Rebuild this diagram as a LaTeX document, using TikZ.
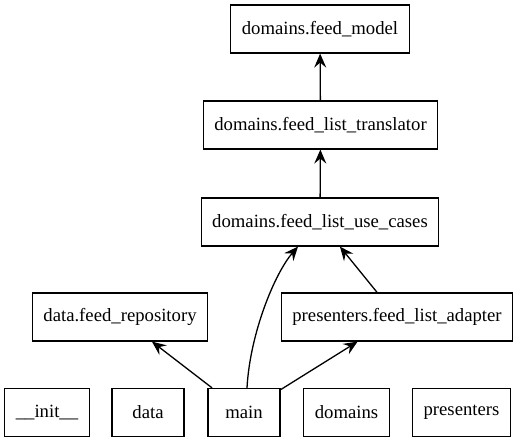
\documentclass[tikz,border=0pt]{standalone}
\usepackage{fontspec}
\setmainfont{Liberation Serif}
\usetikzlibrary{arrows.meta}
\tikzset{
	mod/.style={draw, line width=1.2pt, minimum height=48pt, minimum width=72pt, inner xsep=11pt, font=\fontsize{18.7}{22}\selectfont},
	dep/.style={line width=1.3pt, -{Stealth[length=14pt,width=12pt,inset=5pt]}}
}

\begin{document}
\begin{tikzpicture}[x=1pt, y=1pt]
			%%%%% START %%%%%
			
			\useasboundingbox (0, 0) rectangle (517, 443);
			
			\node[mod] (model) at (320, 414) {domains.feed\_model};
			\node[mod] (translator) at (320.5, 318) {domains.feed\_list\_translator};
			\node[mod] (usecases) at (320, 221) {domains.feed\_list\_use\_cases};
			
			\node[mod] (repo) at (120, 126) {data.feed\_repository};
			\node[mod] (adapter) at (397, 126) {presenters.feed\_list\_adapter};
			
			\node[mod] (init) at (47, 30.5) {\_\_init\_\_};
			\node[mod] (data) at (148, 30.5) {data};
			\node[mod] (main) at (244, 30.5) {main};
			\node[mod] (domains) at (346.5, 30.5) {domains};
			\node[mod] (presenters) at (461.5, 30.5) {presenters};
			
			\draw[dep] (translator) -- (model);
			\draw[dep] (usecases) -- (translator);
			\draw[dep] (adapter) -- (usecases);
			\draw[dep] (main) -- (repo);
			\draw[dep] (main) -- (adapter);
			\draw[dep] ([xshift=3pt]main.north) .. controls (250, 110) and (275, 170) .. ([xshift=-22pt]usecases.south);
			
			%%%%% END %%%%%
		\end{tikzpicture}
\end{document}
